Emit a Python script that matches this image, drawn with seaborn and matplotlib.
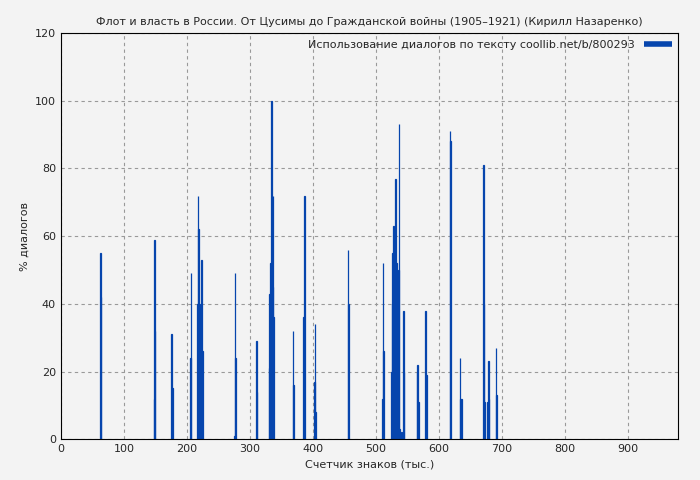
import matplotlib
matplotlib.use("Agg")
import matplotlib.pyplot as plt
import seaborn as sns
import pandas as pd

# позиции (тыс. знаков) и процент диалогов
pos = [62, 63, 147, 148, 149, 175, 176, 177, 205, 206, 216, 217, 218, 219,
       222, 223, 224, 275, 276, 277, 310, 311, 330, 331, 332, 333, 334, 335,
       336, 337, 368, 369, 385, 386, 402, 403, 404, 455, 456, 510, 511, 512,
       524, 525, 526, 527, 528, 529, 530, 531, 532, 533, 535, 536, 537, 540,
       543, 544, 565, 566, 567, 578, 579, 580, 617, 618, 633, 634, 635,
       670, 671, 672, 677, 678, 679, 690, 691]
pct = [55, 42, 12, 59, 32, 31, 15, 15, 24, 49, 40, 72, 62, 40,
       5, 53, 26, 1, 49, 24, 29, 14, 21, 43, 52, 44, 100, 45,
       72, 36, 32, 16, 36, 72, 17, 34, 8, 56, 40, 12, 52, 26,
       20, 40, 55, 63, 9, 40, 14, 77, 52, 11, 50, 93, 3, 2,
       38, 20, 20, 22, 11, 38, 19, 19, 91, 88, 24, 12, 12,
       81, 40, 11, 11, 23, 12, 27, 13]

df = pd.DataFrame({"x": pos, "y": pct})
blue = "#0645ad"

sns.set_style("white")
plt.rcParams["font.family"] = ["DejaVu Sans"]
fig, ax = plt.subplots(figsize=(7, 4.8), dpi=100)
fig.patch.set_facecolor("#f3f3f3")
ax.set_facecolor("#f3f3f3")

ax.bar(df["x"], df["y"], width=1.0, color=blue, edgecolor=blue, linewidth=0.9, align="edge")
ax.plot([], [], color=blue, lw=4, solid_capstyle="butt",
        label="Использование диалогов по тексту coollib.net/b/800293")

ax.set_xlim(0, 980)
ax.set_ylim(0, 120)
ax.set_xticks(range(0, 1000, 100))
ax.set_yticks(range(0, 121, 20))
ax.grid(True, color="#999999", linestyle=(0, (3, 3)), linewidth=0.8)
for s in ax.spines.values():
    s.set_color("black")
ax.tick_params(labelsize=8, direction="in", length=4, color="black")
ax.set_xlabel("Счетчик знаков (тыс.)", fontsize=8)
ax.set_ylabel("% диалогов", fontsize=8)
ax.set_title("Флот и власть в России. От Цусимы до Гражданской войны (1905–1921) (Кирилл Назаренко)", fontsize=8)
ax.legend(loc="upper right", fontsize=8, frameon=False, handlelength=2.5,
          markerfirst=False, borderaxespad=0.2)
fig.subplots_adjust(left=0.087, right=0.969, top=0.931, bottom=0.085)
fig.savefig("out.png", facecolor=fig.get_facecolor())
